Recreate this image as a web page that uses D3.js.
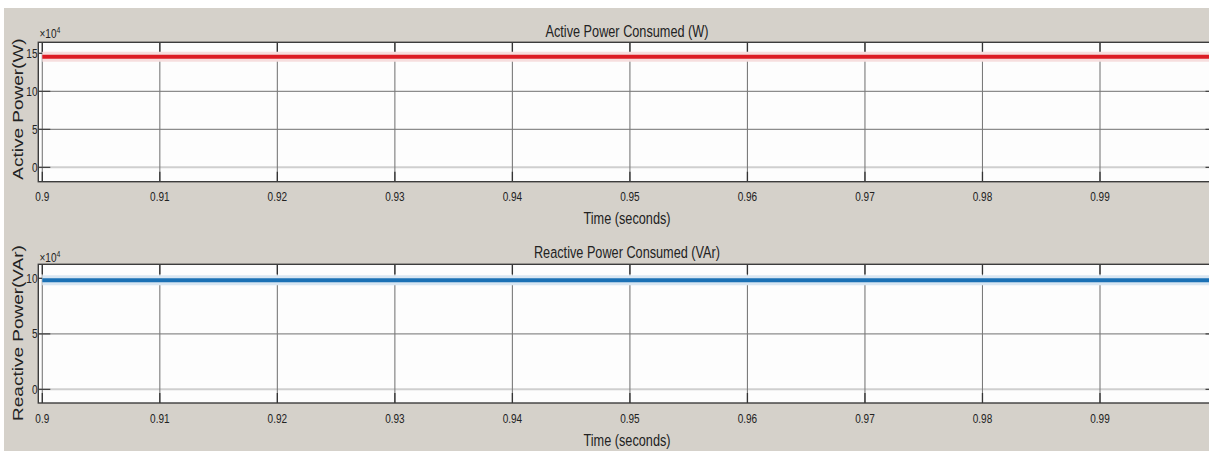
<!DOCTYPE html>
<html>
<head>
<meta charset="utf-8">
<script src="https://cdn.jsdelivr.net/npm/d3@7"></script>
<style>
  html, body { margin: 0; padding: 0; background: #fff; }
  svg { display: block; }
  text { font-family: "Liberation Sans", Arial, sans-serif; fill: #222; }
</style>
</head>
<body>
<svg id="chart" width="1209" height="451"></svg>
<script>
// Scope readout, 0.9 s to 1.0 s
const timeTicks = [0.9, 0.91, 0.92, 0.93, 0.94, 0.95, 0.96, 0.97, 0.98, 0.99];
const timeLabels = ["0.9", "0.91", "0.92", "0.93", "0.94", "0.95", "0.96", "0.97", "0.98", "0.99"];

// Sampled signals (values in units of 10^4)
const sampleTimes   = [0.9, 0.92, 0.94, 0.96, 0.98, 1.0];
const activePower   = [14.55, 14.55, 14.55, 14.55, 14.55, 14.55];   // W
const reactivePower = [9.82, 9.82, 9.82, 9.82, 9.82, 9.82];         // VAr

const activeTicks = [0, 5, 10, 15];
const reactiveTicks = [0, 5, 10];

const svg = d3.select("#chart");
const W = 1209, H = 451;
const SX = 0.77; // horizontal squeeze applied to the text

// window background
svg.append("rect").attr("x", 0).attr("y", 0).attr("width", W).attr("height", H).attr("fill", "#fff");
svg.append("rect").attr("x", 4).attr("y", 8).attr("width", W - 4).attr("height", H - 8).attr("fill", "#d5d1ca");

const x = d3.scaleLinear().domain([0.9, 0.99]).range([42.3, 1100]);
const boxLeft = 38.3, boxRight = x(1.0);

function panel(opts) {
  const y = d3.scaleLinear().domain([0, opts.refTop]).range([opts.zeroY, opts.refTopY]);
  const g = svg.append("g");
  const top = opts.boxTop, bottom = opts.boxBottom;

  g.append("rect").attr("x", boxLeft).attr("y", top)
    .attr("width", boxRight - boxLeft).attr("height", bottom - top)
    .attr("fill", "#fdfdfd");

  // horizontal grid
  g.selectAll(".hg").data(opts.ticks).join("line")
    .attr("x1", boxLeft).attr("x2", boxRight)
    .attr("y1", d => y(d)).attr("y2", d => y(d))
    .attr("stroke", d => d === 0 ? "#cfcfcf" : "#8c8c8c")
    .attr("stroke-width", d => d === 0 ? 2 : 1.2);

  // vertical grid
  g.selectAll(".vg").data(timeTicks).join("line")
    .attr("x1", d => x(d)).attr("x2", d => x(d))
    .attr("y1", top).attr("y2", bottom)
    .attr("stroke", "#7a7a7a").attr("stroke-width", 1.1);

  // tick marks inside the box
  g.selectAll(".xt").data(timeTicks).join("path")
    .attr("d", d => `M${x(d)},${top}v10M${x(d)},${bottom}v-10`)
    .attr("stroke", "#333").attr("stroke-width", 1.3);
  g.selectAll(".yt").data(opts.ticks).join("path")
    .attr("d", d => `M${boxLeft},${y(d)}h12M${boxRight},${y(d)}h-12`)
    .attr("stroke", "#444").attr("stroke-width", 1.3);

  // signal: pale halo and trace
  const line = d3.line().x(d => x(d[0])).y(d => y(d[1]));
  const pts = sampleTimes.map((t, i) => [t, opts.values[i]]);
  g.append("path").attr("d", line(pts)).attr("fill", "none")
    .attr("stroke", opts.halo).attr("stroke-width", 10);
  g.append("path").attr("d", line(pts)).attr("fill", "none")
    .attr("stroke", opts.color).attr("stroke-width", 4);

  // box outline
  g.append("rect").attr("x", boxLeft).attr("y", top)
    .attr("width", boxRight - boxLeft).attr("height", bottom - top)
    .attr("fill", "none").attr("stroke", "#3c3c3c").attr("stroke-width", 1.4);

  // y tick labels
  g.selectAll(".yl").data(opts.ticks).join("text")
    .attr("transform", d => `translate(37.5,${y(d) + 4.5}) scale(${SX},1)`)
    .attr("text-anchor", "end").attr("font-size", 13).text(d => d);

  // x tick labels
  g.selectAll(".xl").data(timeTicks).join("text")
    .attr("transform", (d, i) => `translate(${x(d)},${opts.tickBase}) scale(${SX},1)`)
    .attr("text-anchor", "middle").attr("font-size", 13)
    .text((d, i) => timeLabels[i]);

  // exponent marker
  const ex = g.append("text")
    .attr("transform", `translate(39.5,${opts.expBase}) scale(${SX},1)`)
    .attr("font-size", 13).attr("fill", "#444");
  ex.append("tspan").text("\u00d710");
  ex.append("tspan").attr("font-size", 9).attr("dy", -5).text("4");

  // title
  g.append("text")
    .attr("transform", `translate(627,${opts.titleBase}) scale(${SX},1)`)
    .attr("text-anchor", "middle").attr("font-size", 16.5).text(opts.title);

  // x axis label
  g.append("text")
    .attr("transform", `translate(627,${opts.xlabBase}) scale(${SX},1)`)
    .attr("text-anchor", "middle").attr("font-size", 16.5).text("Time (seconds)");

  // y axis label
  g.append("text")
    .attr("transform", `translate(23,${opts.ylabMid}) scale(${SX},1) rotate(-90)`)
    .attr("text-anchor", "middle").attr("font-size", 19).text(opts.ylabel);
}

panel({
  values: activePower, ticks: activeTicks, refTop: 15,
  zeroY: 167.3, refTopY: 53.3, boxTop: 42.3, boxBottom: 181.7,
  color: "#dc1c24", halo: "#f6dede",
  tickBase: 201, expBase: 37.5, titleBase: 36.7, xlabBase: 224, ylabMid: 109,
  title: "Active Power Consumed (W)", ylabel: "Active Power(W)"
});

panel({
  values: reactivePower, ticks: reactiveTicks, refTop: 10,
  zeroY: 389.3, refTopY: 278.3, boxTop: 264.3, boxBottom: 403,
  color: "#1b71b5", halo: "#d8e6f2",
  tickBase: 423, expBase: 261.5, titleBase: 258.3, xlabBase: 446, ylabMid: 333,
  title: "Reactive Power Consumed (VAr)", ylabel: "Reactive Power(VAr)"
});
</script>
</body>
</html>
